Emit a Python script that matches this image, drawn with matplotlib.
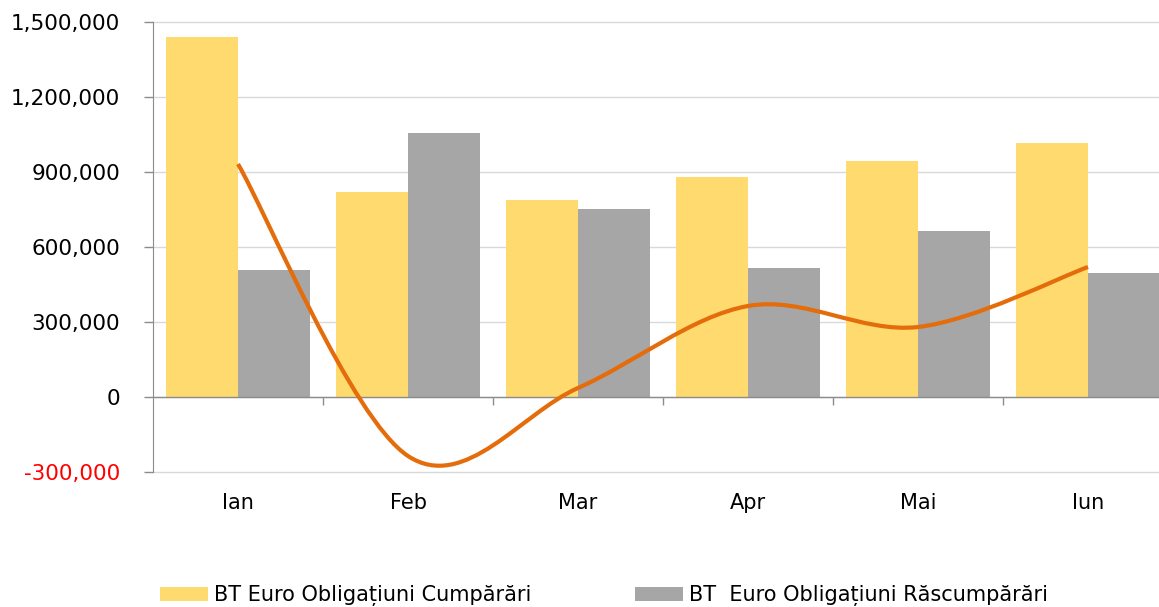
import matplotlib
matplotlib.use("Agg")
import matplotlib.pyplot as plt
from matplotlib.path import Path
from matplotlib.patches import PathPatch
from matplotlib.ticker import FuncFormatter
import numpy as np

# Data
months = ["Ian", "Feb", "Mar", "Apr", "Mai", "Iun"]
cumparari = [1440000, 820000, 788000, 880000, 944000, 1016000]
rascumparari = [508000, 1056000, 752000, 516000, 664000, 496000]
net = [932000, -236000, 36000, 364000, 280000, 520000]

label_cump = "BT Euro Obligațiuni Cumpărări"
label_rasc = "BT  Euro Obligațiuni Răscumpărări"

C_YELLOW = '#FFDA6F'
C_GRAY = '#A6A6A6'
C_ORANGE = '#E46C0A'
C_AXIS = '#8C8C8C'
C_GRID = '#D9D9D9'

plt.rcParams['font.family'] = ['DejaVu Sans']

fig = plt.figure(figsize=(11.59, 6.07), dpi=100)
# axes extends past the right edge, as in the original screenshot
ax = fig.add_axes([153 / 1159, 1 - 472 / 607, 1020 / 1159, 450 / 607])

x = np.arange(len(months))
w = 0.425
ax.bar(x - w / 2, cumparari, width=w, color=C_YELLOW, label=label_cump, zorder=2)
ax.bar(x + w / 2, rascumparari, width=w, color=C_GRAY, label=label_rasc, zorder=2)

# smoothed line (Catmull-Rom style bezier, like Excel's smooth line)
pts = np.column_stack([x, net]).astype(float)
verts = [pts[0]]
codes = [Path.MOVETO]
n = len(pts)
for i in range(n - 1):
    p0 = pts[max(i - 1, 0)]
    p1 = pts[i]
    p2 = pts[i + 1]
    p3 = pts[min(i + 2, n - 1)]
    verts += [p1 + (p2 - p0) / 6, p2 - (p3 - p1) / 6, p2]
    codes += [Path.CURVE4] * 3
ax.add_patch(PathPatch(Path(verts, codes), fill=False, edgecolor=C_ORANGE,
                       lw=3, capstyle='butt', zorder=4))

ax.set_xlim(-0.5, len(months) - 0.5)
ax.set_ylim(-300000, 1500000)
ax.set_yticks(np.arange(-300000, 1500001, 300000))
ax.yaxis.set_major_formatter(FuncFormatter(lambda v, p: f"{v:,.0f}"))
ax.yaxis.grid(True, color=C_GRID, lw=1, zorder=0)
ax.set_axisbelow(True)
for gl in ax.get_ygridlines():
    gl.set_clip_on(False)

for s in ['top', 'right', 'bottom']:
    ax.spines[s].set_visible(False)
ax.spines['left'].set_color(C_AXIS)
ax.tick_params(axis='y', direction='out', length=6.5, width=1, color=C_AXIS,
               labelsize=15.5, pad=17)
ax.get_yticklabels()[0].set_color('red')

ax.set_xticks(x)
ax.set_xticklabels(months)
ax.tick_params(axis='x', length=0, labelsize=15, pad=15)

# category axis line at zero, with separator ticks
ax.axhline(0, color=C_AXIS, lw=1, zorder=3)
sec = ax.secondary_xaxis(1 / 6)
sec.set_xticks(np.arange(0.5, len(months) - 0.5, 1))
sec.set_xticklabels([])
sec.tick_params(direction='out', length=6, width=1, color=C_AXIS)
sec.spines['bottom'].set_visible(False)

fig.legend(loc='upper left', bbox_to_anchor=(160 / 1159, 1 - 585 / 607), ncol=2,
           frameon=False, fontsize=15, borderpad=0, borderaxespad=0,
           handlelength=2.3, handleheight=0.65, handletextpad=0.3, columnspacing=4.95)

fig.savefig("out.png", dpi=100)
